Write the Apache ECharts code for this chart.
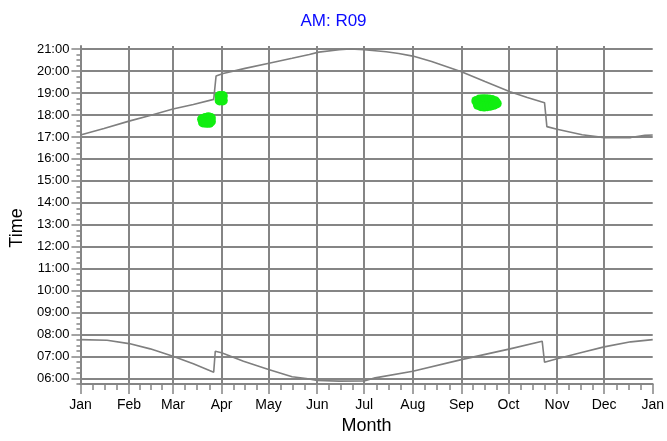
<!DOCTYPE html>
<html><head><meta charset="utf-8">
<script src="https://cdn.jsdelivr.net/npm/echarts@6/dist/echarts.min.js"></script>
<style>html,body{margin:0;padding:0;background:#fff}#c{width:667px;height:441px}</style>
</head><body><div id="c"></div><script>
// Day-of-year at which each month starts (x axis ticks)
const monthStarts = [0, 31, 59, 90, 120, 151, 181, 212, 243, 273, 304, 334, 365];
const monthLabels = ['Jan','Feb','Mar','Apr','May','Jun','Jul','Aug','Sep','Oct','Nov','Dec','Jan'];
// Hour ticks on the y axis
const hourTicks = [6,7,8,9,10,11,12,13,14,15,16,17,18,19,20,21];

// Sunset (upper curve): day of year, time in hours
const sunsetDays  = [0, 15, 31, 45, 59, 72, 85, 86.5, 91, 105, 121, 135, 146, 152, 165, 172, 181, 195, 203, 212, 224, 243, 258, 274, 285, 296, 297.5, 304, 320, 334, 351, 360, 365];
const sunsetTimes = [17.09, 17.38, 17.72, 17.99, 18.27, 18.48, 18.71, 19.77, 19.89, 20.12, 20.37, 20.58, 20.75, 20.86, 20.97, 21.0, 20.97, 20.88, 20.80, 20.68, 20.43, 19.97, 19.52, 19.06, 18.80, 18.56, 17.47, 17.35, 17.10, 16.97, 16.97, 17.07, 17.09];

// Sunrise (lower curve)
const sunriseDays  = [0, 17, 31, 44.5, 59, 72, 85, 86, 90, 104, 120, 135, 144, 151, 165, 181, 188, 212, 243, 274, 294.5, 296, 304, 319, 334, 351, 365];
const sunriseTimes = [7.77, 7.74, 7.59, 7.35, 7.01, 6.67, 6.29, 7.24, 7.17, 6.79, 6.41, 6.08, 6.0, 5.91, 5.88, 5.89, 6.03, 6.33, 6.86, 7.35, 7.70, 6.74, 6.90, 7.17, 7.44, 7.67, 7.77];

// Green observation markers
const obsDays  = [88.8, 90.8, 88.8, 90.8, 89.8, 77.6, 79.6, 81.6, 83.2, 78.2, 80.2, 82.2, 83.2, 252.5, 254.5, 256.5, 258.5, 260.5, 262.5, 264.5, 253.5, 255.5, 257.5, 259.5, 261.5, 263.5, 265.5];
const obsTimes = [18.86, 18.86, 18.66, 18.66, 18.76, 17.80, 17.86, 17.90, 17.86, 17.66, 17.64, 17.64, 17.70, 18.64, 18.70, 18.72, 18.72, 18.70, 18.68, 18.62, 18.46, 18.40, 18.38, 18.40, 18.42, 18.46, 18.52];

const zip = (a, b) => a.map((v, i) => [v, b[i]]);
const minorX = [];
for (let i = 0; i < monthStarts.length - 1; i++) {
  const a = monthStarts[i], b = monthStarts[i + 1];
  for (let k = 1; k < 4; k++) minorX.push(a + (b - a) * k / 4);
}
const minorY = [];
for (let v = 5.75; v <= 21.001; v += 0.25) minorY.push(Math.round(v * 100) / 100);

const GRID = '#858585';
const LINE = '#7f7f7f';
const FONT = 'Liberation Sans, Arial, sans-serif';

const chart = echarts.init(document.getElementById('c'), null, {renderer: 'canvas'});
chart.setOption({
  animation: false,
  backgroundColor: '#fff',
  title: {
    text: 'AM: R09', left: 'center', top: 8,
    textStyle: {color: '#0a0aff', fontSize: 17, fontWeight: 'normal', fontFamily: FONT}
  },
  grid: {left: 80, right: 12, top: 46, bottom: 57},
  xAxis: [{
    type: 'value', min: 0, max: 365,
    name: 'Month', nameLocation: 'middle', nameGap: 32,
    nameTextStyle: {fontSize: 18, color: '#000', fontFamily: FONT},
    axisLine: {show: true, onZero: false, lineStyle: {color: GRID, width: 2}},
    axisTick: {show: true, customValues: monthStarts, length: 10, lineStyle: {color: GRID, width: 1.5}},
    axisLabel: {customValues: monthStarts, margin: 14, fontSize: 14, color: '#000', fontFamily: FONT,
      formatter: v => monthLabels[monthStarts.indexOf(v)] || ''},
    splitLine: {show: true, showMinLine: false, showMaxLine: false, lineStyle: {color: GRID, width: 2}}
  }, {
    type: 'value', min: 0, max: 365, position: 'bottom',
    axisLine: {show: false},
    axisTick: {show: true, customValues: minorX, length: 6, lineStyle: {color: GRID, width: 1.5}},
    axisLabel: {show: false},
    splitLine: {show: false}
  }],
  yAxis: [{
    type: 'value', min: 5.75, max: 21.14,
    name: 'Time', nameLocation: 'middle', nameGap: 52,
    nameTextStyle: {fontSize: 18, color: '#000', fontFamily: FONT, padding: [0, 26, 0, 0]},
    axisLine: {show: true, onZero: false, lineStyle: {color: GRID, width: 2}},
    axisTick: {show: true, customValues: hourTicks, length: 9, lineStyle: {color: GRID, width: 1.5}},
    axisLabel: {customValues: hourTicks, margin: 11, fontSize: 13, color: '#000', fontFamily: FONT,
      formatter: v => (v < 10 ? '0' : '') + v + ':00'},
    splitLine: {show: true, lineStyle: {color: GRID, width: 2}}
  }, {
    type: 'value', min: 5.75, max: 21.14, position: 'left',
    axisLine: {show: false, onZero: false},
    axisTick: {show: true, customValues: minorY, length: 4, lineStyle: {color: GRID, width: 1.5}},
    axisLabel: {show: false},
    splitLine: {show: false}
  }],
  series: [{
    type: 'line', data: zip(sunsetDays, sunsetTimes), showSymbol: false,
    lineStyle: {color: LINE, width: 1.6}, z: 3
  }, {
    type: 'line', data: zip(sunriseDays, sunriseTimes), showSymbol: false,
    lineStyle: {color: LINE, width: 1.6}, z: 3
  }, {
    type: 'scatter', data: zip(obsDays, obsTimes), symbol: 'circle', symbolSize: 10,
    itemStyle: {color: '#11ee11', opacity: 1}, z: 4
  }]
});
</script></body></html>
